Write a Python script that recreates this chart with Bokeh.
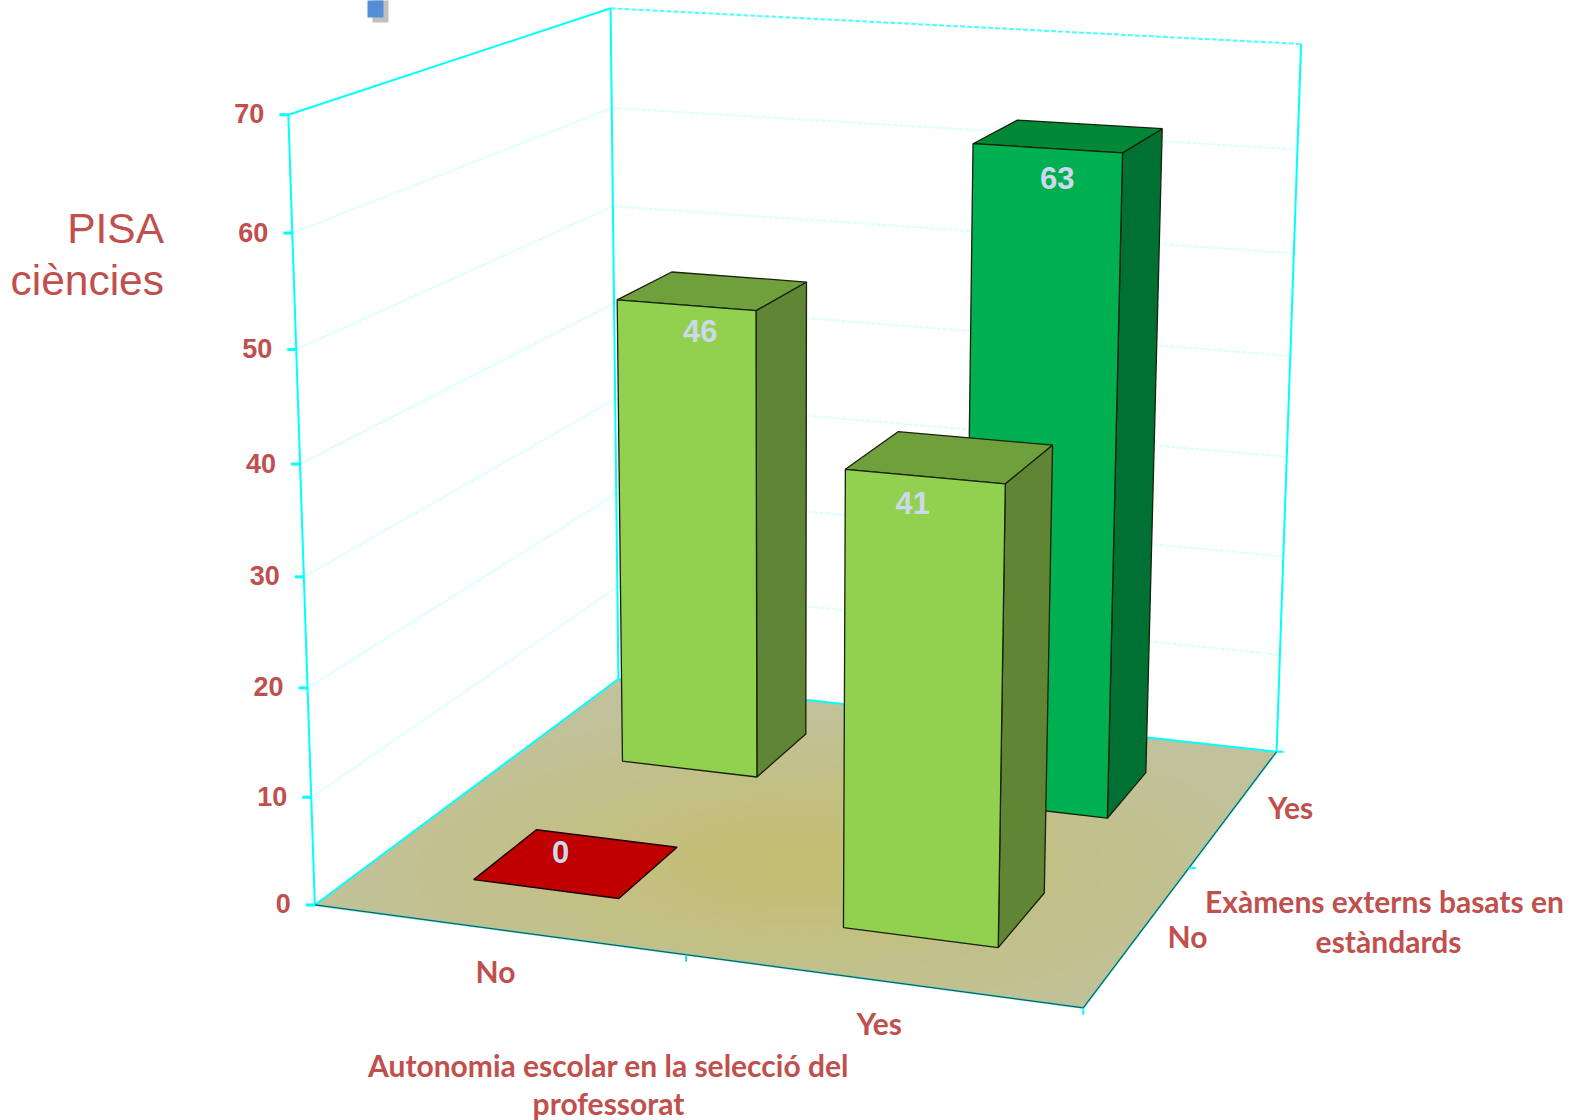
import numpy as np
from bokeh.plotting import figure
from bokeh.embed import file_html
from bokeh.resources import INLINE
from bokeh.core.properties import value

# ---- data ----
autonomia = ["No", "Yes"]
examens = ["No", "Yes"]
values_no_exam = [0, 41]      # examens = No, autonomia = No / Yes
values_yes_exam = [46, 63]    # examens = Yes, autonomia = No / Yes
z_ticks = [0, 10, 20, 30, 40, 50, 60, 70]
z_title = ["PISA", "ciències"]
x_title = ["Autonomia escolar en la selecció del", "professorat"]
y_title = ["Exàmens externs basats en", "estàndards"]

# ---- style ----
RED = "#c0504d"
CYAN = "#00ffff"
GRID = "#d6ffff"
LABEL = "#ccd9ea"
BAR_LO, BAR_HI = 0.15, 0.35   # bar footprint inside a unit half cell
FACES = {
    "light": ("#92d050", "#5f8535", "#70a03c"),
    "dark": ("#00b050", "#007033", "#008837"),
}

# ---- camera: projective map from (x, y, z) to page pixels, fitted to the frame ----
k = 1582 / 1568
world = [(0, 0, 0), (1, 0, 0), (1, 1, 0), (0, 1, 0), (0, 0, 70), (0, 1, 70), (1, 1, 70)]
image = [(312, 897), (1073, 998), (1265, 745), (612, 672), (285, 113), (605, 8), (1289, 43)]
rows = []
for (X, Y, Z), (a, b) in zip(world, image):
    u, v = a * k, b * k
    rows.append([X, Y, Z, 1, 0, 0, 0, 0, -u * X, -u * Y, -u * Z, -u])
    rows.append([0, 0, 0, 0, X, Y, Z, 1, -v * X, -v * Y, -v * Z, -v])
P = np.linalg.svd(np.array(rows))[2][-1].reshape(3, 4)


def proj(x, y, z):
    h = P @ np.array([x, y, z, 1.0])
    return float(h[0] / h[2]), float(h[1] / h[2])


def poly(points):
    pts = [proj(*q) for q in points]
    return [q[0] for q in pts], [q[1] for q in pts]


p = figure(width=1582, height=1120, x_range=(0, 1582), y_range=(1120, 0),
           toolbar_location=None, output_backend="svg", min_border=0,
           outline_line_color=None)
p.xaxis.visible = False
p.yaxis.visible = False
p.grid.visible = False


def seg(a, b, color, width=2, dash="solid", alpha=1.0):
    xs, ys = poly([a, b])
    p.line(xs, ys, line_color=color, line_width=width, line_dash=dash, line_alpha=alpha)


# gridlines on the two walls
for z in z_ticks[1:-1]:
    seg((0, 0, z), (0, 1, z), GRID, 1.5)
    seg((0, 1, z), (1, 1, z), GRID, 2, "4 2")

# frame of the walls
seg((0, 0, 0), (0, 0, 70), CYAN)
seg((0, 1, 0), (0, 1, 70), CYAN)
seg((1, 1, 0), (1, 1, 70), CYAN)
seg((0, 0, 70), (0, 1, 70), CYAN)
seg((0, 1, 70), (1, 1, 70), CYAN, 2, "5 2", 0.7)

# floor with its soft central glow
xs, ys = poly([(0, 0, 0), (1, 0, 0), (1, 1, 0), (0, 1, 0)])
p.patch(xs, ys, fill_color="#c1c19c", line_color="#c1c19c", line_width=0.5)
edge = np.array([0xc1, 0xc1, 0x9c])
core = np.array([0xc4, 0xbf, 0x72])
cx, cy = 0.52, 0.36
n_levels = 24
for i in range(n_levels):
    t = i / (n_levels - 1)
    r = 0.62 * (1 - t) + 0.04
    ang = np.linspace(0, 2 * np.pi, 72, endpoint=False)
    fx = np.clip(cx + r * np.cos(ang), 0.002, 0.998)
    fy = np.clip(cy + r * np.sin(ang), 0.002, 0.998)
    c = edge + (core - edge) * t
    col = "#%02x%02x%02x" % tuple(int(round(q)) for q in c)
    xs, ys = poly([(a, b, 0) for a, b in zip(fx, fy)])
    p.patch(xs, ys, fill_color=col, line_color=col, line_width=0.5)

# floor edges
seg((0, 1, 0), (1, 1, 0), CYAN, 2)
seg((0, 0, 0), (0, 1, 0), CYAN, 2)
seg((0, 0, 0), (1, 0, 0), CYAN, 2.5, alpha=0.6)
seg((1, 0, 0), (1, 1, 0), CYAN, 2.5, alpha=0.6)
seg((0, 0, 0), (1, 0, 0), "#33524f", 1.2)
seg((1, 0, 0), (1, 1, 0), "#33524f", 1.2)

# ticks
for z in z_ticks:
    x0, y0 = proj(0, 0, z)
    p.line([x0 - 9, x0], [y0, y0], line_color=CYAN, line_width=3)
xt, yt = proj(0.5, 0, 0)
p.line([xt, xt], [yt, yt + 7], line_color="#33cccc", line_width=2)
xt, yt = proj(1, 0, 0)
p.line([xt, xt], [yt, yt + 7], line_color=CYAN, line_width=2)
xt, yt = proj(1, 0.5, 0)
p.line([xt, xt + 7], [yt, yt], line_color=CYAN, line_width=2)
xt, yt = proj(1, 1, 0)
p.line([xt, xt + 7], [yt, yt], line_color=CYAN, line_width=2)


def bar(ix, iy, val, tone):
    x0, x1 = ix * 0.5 + BAR_LO, ix * 0.5 + BAR_HI
    y0, y1 = iy * 0.5 + BAR_LO, iy * 0.5 + BAR_HI
    if val == 0:
        xs, ys = poly([(x0, y0, 0), (x1, y0, 0), (x1, y1, 0), (x0, y1, 0)])
        p.patch(xs, ys, fill_color="#c00000", line_color="#1a0000", line_width=1.5)
        return
    front, side, top = FACES[tone]
    xs, ys = poly([(x1, y0, 0), (x1, y1, 0), (x1, y1, val), (x1, y0, val)])
    p.patch(xs, ys, fill_color=side, line_color="#16220c", line_width=1.3)
    xs, ys = poly([(x0, y0, val), (x1, y0, val), (x1, y1, val), (x0, y1, val)])
    p.patch(xs, ys, fill_color=top, line_color="#16220c", line_width=1.3)
    xs, ys = poly([(x0, y0, 0), (x1, y0, 0), (x1, y0, val), (x0, y0, val)])
    p.patch(xs, ys, fill_color=front, line_color="#16220c", line_width=1.3)


# painter's order: back row first
bar(0, 0, values_no_exam[0], "light")
bar(0, 1, values_yes_exam[0], "light")
bar(1, 1, values_yes_exam[1], "dark")
bar(1, 0, values_no_exam[1], "light")


def txt(x, y, s, size, color=RED, align="center", font="Liberation Sans", style="bold"):
    p.text([x], [y], text=[s], text_font=value(font), text_font_size=f"{size}px",
           text_font_style=style, text_color=color, text_align=align, text_baseline="middle")


# value labels
LABEL_OFFSETS = {(0, 0): (-16, -11), (0, 1): (14, 26), (1, 1): (10, 30), (1, 0): (-12, 26)}
for (ix, iy), val in [((0, 0), values_no_exam[0]), ((0, 1), values_yes_exam[0]),
                      ((1, 1), values_yes_exam[1]), ((1, 0), values_no_exam[1])]:
    x_mid = ix * 0.5 + (BAR_LO + BAR_HI) / 2
    y_face = iy * 0.5 + BAR_LO + (0.1 if val == 0 else 0)
    bx, by = proj(x_mid, y_face, val)
    dx, dy = LABEL_OFFSETS[(ix, iy)]
    txt(bx + dx, by + dy, str(val), 31, LABEL)

# z tick labels
for z in z_ticks:
    x0, y0 = proj(0, 0, z)
    txt(x0 - 24, y0 - 1, str(z), 27, align="right")

# category labels
for i, s in enumerate(autonomia):
    bx, by = proj(i * 0.5 + 0.25, 0, 0)
    txt(bx - 2, by + 42, s, 30, font="Lato")
for i, s in enumerate(examens):
    bx, by = proj(1, i * 0.5 + 0.25, 0)
    txt(bx + 49 + 7 * i, by + 1 - i, s, 30, font="Lato")

# titles
for s, y in zip(x_title, [1064, 1102]):
    txt(608, y, s, 30, font="Lato")
for s, y in zip(y_title, [900.5, 940]):
    txt(1384 if s == y_title[0] else 1388, y, s, 30, font="Lato")
for s, y in zip(z_title, [228, 280]):
    txt(163.5, y, s, 42.5, align="right", style="normal")

# stray legend key at the top of the slide
p.quad(left=[372], right=[388], top=[-5], bottom=[22], fill_color="#c0c0c0", line_color=None)
p.quad(left=[367], right=[383], top=[-5], bottom=[17], fill_color="#558ed5", line_color=None)

open("out.html", "w").write(file_html(p, INLINE))
